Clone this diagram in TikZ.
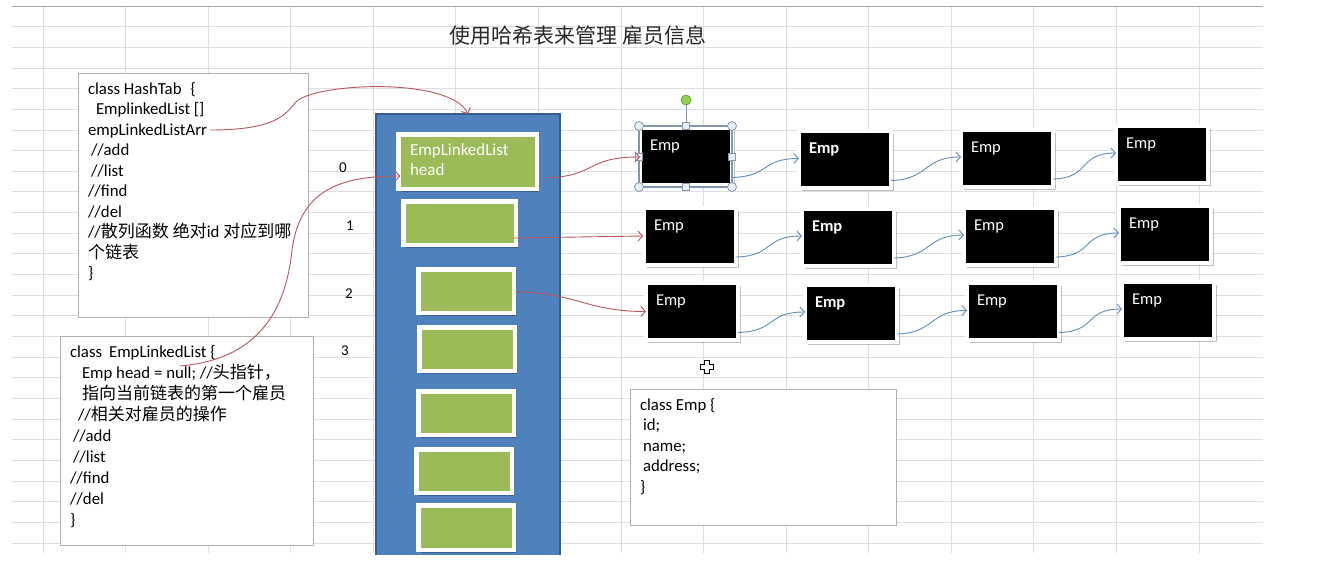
\documentclass[tikz,border=0pt]{standalone}
\usepackage{fontspec}
\setmainfont{Carlito}
\newfontfamily\cjk{Noto Sans CJK SC}
\usetikzlibrary{arrows.meta,shadows}

\definecolor{gridc}{RGB}{220,222,224}
\definecolor{topc}{RGB}{165,165,165}
\definecolor{boxc}{RGB}{175,175,175}
\definecolor{bluef}{RGB}{79,129,189}
\definecolor{blued}{RGB}{56,93,138}
\definecolor{greenf}{RGB}{155,187,89}
\definecolor{redc}{RGB}{185,85,92}
\definecolor{bluec}{RGB}{96,140,192}
\definecolor{handc}{RGB}{130,150,180}
\definecolor{handf}{RGB}{232,238,246}
\definecolor{rotf}{RGB}{146,208,80}
\definecolor{rotd}{RGB}{100,160,60}
\definecolor{titlec}{RGB}{40,40,40}

\newcommand\zhtxt[1]{{\cjk\fontsize{17}{20.5}\selectfont #1}}

\begin{document}
\begin{tikzpicture}[x=1pt,y=-1pt,
  every node/.style={inner sep=0pt, outer sep=0pt},
  txtbox/.style={rectangle, draw=boxc, line width=0.8pt, fill=white, anchor=north west},
  codetxt/.style={anchor=north west, align=left, font=\fontsize{16.8}{20.5}\selectfont},
  greenbox/.style={rectangle, fill=greenf, draw=white, line width=4.5pt,
    drop shadow={shadow xshift=2.5pt, shadow yshift=-3pt, opacity=0.25, fill=black}},
  empbox/.style={rectangle, fill=black, draw=white, line width=4pt,
    minimum width=92pt, minimum height=57pt,
    drop shadow={shadow xshift=2.5pt, shadow yshift=-3pt, opacity=0.25, fill=black}},
  emplabel/.style={text=white, anchor=north west, font=\fontsize{16.5}{18}\selectfont},
  empboldlabel/.style={emplabel, font=\fontsize{16.5}{18}\selectfont\bfseries},
  redarrow/.style={draw=redc, line width=0.9pt, -{Straight Barb[length=4.5pt,width=10pt]}},
  bluearrow/.style={draw=bluec, line width=0.9pt, -{Straight Barb[length=4.5pt,width=10pt]}},
  idx/.style={font=\fontsize{15}{17}\selectfont}
]
\useasboundingbox (0,0) rectangle (1319,563);
\fill[white] (0,0) rectangle (1319,563);

% spreadsheet grid
\foreach \k in {1,...,26}
  \draw[gridc, line width=0.8pt] (12,{6+20.65*\k}) -- (1263,{6+20.65*\k});
\foreach \j in {0,...,14}
  \draw[gridc, line width=0.8pt] ({43+82.57*\j},6) -- ({43+82.57*\j},553);
\draw[topc, line width=0.8pt] (12,6) -- (1263,6);

% title
\node[text=titlec, font=\cjk\fontsize{21}{24}\selectfont] (title) at (578,35) {使用哈希表来管理 雇员信息};

% class HashTab box
\node[txtbox, minimum width=230pt, minimum height=244pt] (hashbox) at (78,73) {};
\node[codetxt] (hashtxt) at (88,82) {class HashTab\hspace{9pt}\{\\
\hspace{8pt}EmplinkedList []\\
empLinkedListArr\\
\hspace{3pt}//add\\
\hspace{3pt}//list\\
//find\\
//del\\
//\zhtxt{散列函数 绝对}id \zhtxt{对应到哪}\\
\zhtxt{个链表}\\
\}};

% class EmpLinkedList box
\node[txtbox, minimum width=253pt, minimum height=209pt] (elbox) at (60,336) {};
\node[codetxt, font=\fontsize{16.8}{21}\selectfont] (eltxt) at (70,345) {class\hspace{7pt}EmpLinkedList \{\\
\hspace{12pt}Emp head = null; //\zhtxt{头指针，}\\
\hspace{12pt}\zhtxt{指向当前链表的第一个雇员}\\
\hspace{8pt}//\zhtxt{相关对雇员的操作}\\
\hspace{3pt}//add\\
\hspace{3pt}//list\\
//find\\
//del\\
\}};

% class Emp box
\node[txtbox, minimum width=266pt, minimum height=136pt] (empclsbox) at (630,389) {};
\node[codetxt] (empclstxt) at (640,398) {class Emp \{\\
\hspace{3pt}id;\\
\hspace{3pt}name;\\
\hspace{3pt}address;\\
\}};

% index labels
\node[idx] (i0) at (343,168) {0};
\node[idx] (i1) at (350,226) {1};
\node[idx] (i2) at (349,294) {2};
\node[idx] (i3) at (345,351) {3};

% hash array (blue column)
\node[fill=bluef, minimum width=184pt, minimum height=441pt, anchor=north west] (arr) at (376,114) {};
\draw[blued, line width=1.3pt] (arr.south west) -- (arr.north west) -- (arr.north east) -- (arr.south east);

% green slots
\node[greenbox, minimum width=138.5pt, minimum height=54.5pt] (g1) at (467.5,161.5) {};
\node[greenbox, minimum width=112.5pt, minimum height=43.5pt] (g2) at (459.5,223) {};
\node[greenbox, minimum width=95.5pt, minimum height=43.5pt] (g3) at (466,291) {};
\node[greenbox, minimum width=95.5pt, minimum height=43.5pt] (g4) at (467,349) {};
\node[greenbox, minimum width=95.5pt, minimum height=43.5pt] (g5) at (466,413) {};
\node[greenbox, minimum width=95.5pt, minimum height=43.5pt] (g6) at (464,471) {};
\node[greenbox, minimum width=95.5pt, minimum height=44.5pt] (g7) at (466,527.5) {};
\node[anchor=north west, align=left, text=white, font=\fontsize{17}{20}\selectfont] (g1txt) at (410,144) {EmpLinkedList\\head};

% Emp nodes
\node[empbox] (e11) at (686,156.5) {};
\node[empbox] (e12) at (845,159.5) {};
\node[empbox] (e13) at (1007,158) {};
\node[empbox] (e14) at (1162,154) {};
\node[empbox] (e21) at (690,236) {};
\node[empbox] (e22) at (848,237) {};
\node[empbox] (e23) at (1010,236) {};
\node[empbox] (e24) at (1165,234) {};
\node[empbox] (e31) at (692,311.5) {};
\node[empbox] (e32) at (851,313) {};
\node[empbox] (e33) at (1013,311.5) {};
\node[empbox] (e34) at (1168,310) {};

\foreach \r in {1,2,3} {
  \node[emplabel] (e\r1t) at ([xshift=10pt,yshift=-12pt]e\r1.north west) {Emp};
  \node[empboldlabel] (e\r2t) at ([xshift=10pt,yshift=-12pt]e\r2.north west) {Emp};
  \node[emplabel] (e\r3t) at ([xshift=10pt,yshift=-12pt]e\r3.north west) {Emp};
  \node[emplabel] (e\r4t) at ([xshift=10pt,yshift=-12pt]e\r4.north west) {Emp};
}

% selection handles on the first Emp
\draw[handc, line width=1.2pt] (639,126) rectangle (732,187);
\draw[handc, line width=0.8pt] (686,126) -- (686,101);
\foreach \p in {(639,126),(732,126),(639,187),(732,187)}
  \draw[handc, fill=handf, line width=0.8pt] \p circle (4.5);
\foreach \p in {(686,126),(686,187),(639,157),(732,157)}
  \draw[handc, fill=handf, line width=0.8pt] \p ++(-3.2,-3.2) rectangle ++(6.4,6.4);
\draw[rotd, fill=rotf, line width=0.8pt] (686,100) circle (5);

% move cursor
\begin{scope}[shift={(707,367)}]
  \draw[black, fill=white, line width=1.4pt, line join=miter]
    (-2.5,-6.5) -- (2.5,-6.5) -- (2.5,-2.5) -- (6.5,-2.5) -- (6.5,2.5) -- (2.5,2.5)
    -- (2.5,6.5) -- (-2.5,6.5) -- (-2.5,2.5) -- (-6.5,2.5) -- (-6.5,-2.5) -- (-2.5,-2.5) -- cycle;
\end{scope}

% red connectors
\coordinate (arrstart) at (210,130);
\coordinate (elstart) at (180,366);
\draw[redarrow] (arrstart) .. controls (275,130) and (285,115) .. (295,103)
  .. controls (310,83) and (450,76) .. (arr.north);
\draw[redarrow] (elstart) .. controls (250,360) and (285,320) .. (292,250)
  .. controls (300,190) and (340,176) .. ([xshift=2pt,yshift=-14.5pt]g1.west);
\draw[redarrow] ([xshift=9pt,yshift=-16.5pt]g1.east) .. controls +(52,-2) and +(-55,0) .. ([yshift=-0.5pt]e11.west);
\draw[redarrow] ([xshift=-3pt,yshift=-15pt]g2.east) -- ([xshift=-1pt]e21.west);
\draw[redarrow] ([xshift=1pt,yshift=-1pt]g3.east) .. controls +(60,0) and +(-60,0) .. (e31.west);

% blue connectors
\foreach \r in {1,2,3} {
  \draw[bluearrow] ([yshift=-21pt]e\r1.east) .. controls +(38,-1) and +(-38,0) .. ([yshift=1pt]e\r2.west);
  \draw[bluearrow] ([yshift=-21pt]e\r2.east) .. controls +(38,-1) and +(-38,0) .. ([yshift=1pt]e\r3.west);
  \draw[bluearrow] ([yshift=-21pt]e\r3.east) .. controls +(38,-1) and +(-38,0) .. ([yshift=1pt]e\r4.west);
}
\end{tikzpicture}
\end{document}
